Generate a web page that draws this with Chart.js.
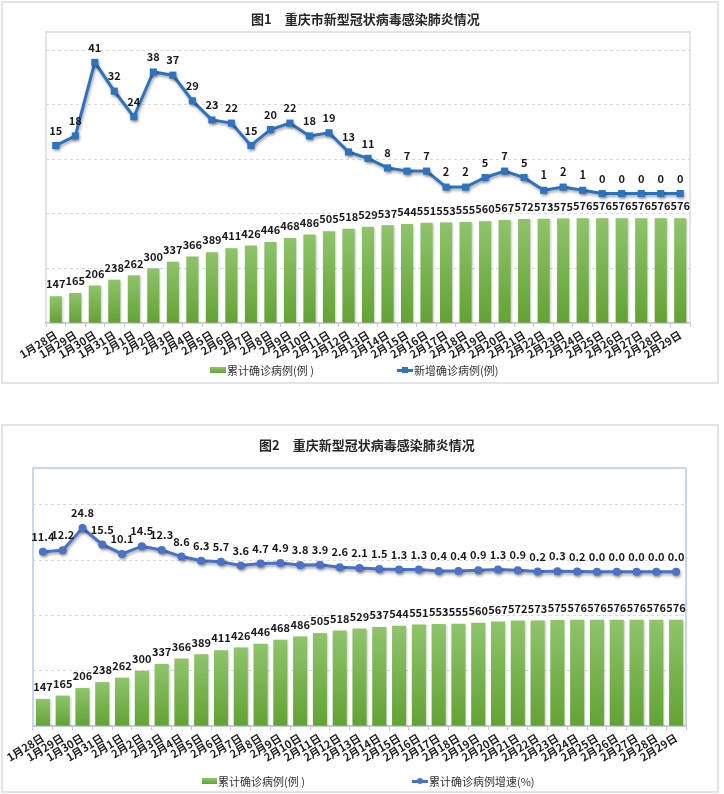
<!DOCTYPE html>
<html><head><meta charset="utf-8">
<script src="https://cdn.jsdelivr.net/npm/chart.js@4.4.1/dist/chart.umd.min.js"></script>
<style>
body{margin:0;background:#fff;width:724px;height:794px;position:relative;overflow:hidden;font-family:"Noto Sans CJK SC",sans-serif;}
.frame{position:absolute;border:2px solid #e4e4e4;box-sizing:border-box;}
canvas{position:absolute;left:0;}
.title{position:absolute;font-weight:bold;font-size:13px;color:#262626;white-space:pre;line-height:16px;}
.leg{position:absolute;font-size:11px;color:#333;line-height:14px;white-space:pre;}
.gbox{position:absolute;background:linear-gradient(#8fc46b,#64a436);}
.lline{position:absolute;height:3px;}
.mk{position:absolute;}
</style></head>
<body>
<div class="frame" style="left:1px;top:1px;width:718px;height:383px;"></div>
<div class="frame" style="left:1px;top:424px;width:718px;height:369px;"></div>
<canvas id="c1" width="724" height="385" style="top:0;"></canvas>
<canvas id="c2" width="724" height="374" style="top:420px;"></canvas>
<div class="title" style="left:251px;top:11px;">图1　重庆市新型冠状病毒感染肺炎情况</div>
<div class="title" style="left:259px;top:437px;">图2　重庆新型冠状病毒感染肺炎情况</div>

<div class="gbox" style="left:210px;top:367px;width:16px;height:6px;"></div>
<div class="leg" style="left:227px;top:363px;">累计确诊病例(例 )</div>
<div class="lline" style="left:397px;top:369px;width:16px;background:#2e73bd;"></div>
<div class="mk" style="left:402px;top:367px;width:6px;height:6px;background:#2e73bd;"></div>
<div class="leg" style="left:414px;top:363px;">新增确诊病例(例)</div>

<div class="gbox" style="left:202px;top:778px;width:15px;height:6px;"></div>
<div class="leg" style="left:218px;top:774px;">累计确诊病例(例 )</div>
<div class="lline" style="left:412px;top:780px;width:16px;background:#4a72c6;"></div>
<div class="mk" style="left:417px;top:778px;width:6px;height:6px;border-radius:3px;background:#4a72c6;"></div>
<div class="leg" style="left:429px;top:774px;">累计确诊病例增速(%)</div>

<script>
const categories = ["1月28日","1月29日","1月30日","1月31日","2月1日","2月2日","2月3日","2月4日","2月5日","2月6日","2月7日","2月8日","2月9日","2月10日","2月11日","2月12日","2月13日","2月14日","2月15日","2月16日","2月17日","2月18日","2月19日","2月20日","2月21日","2月22日","2月23日","2月24日","2月25日","2月26日","2月27日","2月28日","2月29日"];
const cumulativeCases = [147,165,206,238,262,300,337,366,389,411,426,446,468,486,505,518,529,537,544,551,553,555,560,567,572,573,575,576,576,576,576,576,576];
const newCases = [15,18,41,32,24,38,37,29,23,22,15,20,22,18,19,13,11,8,7,7,2,2,5,7,5,1,2,1,0,0,0,0,0];
const growthRate = [11.4,12.2,24.8,15.5,10.1,14.5,12.3,8.6,6.3,5.7,3.6,4.7,4.9,3.8,3.9,2.6,2.1,1.5,1.3,1.3,0.4,0.4,0.9,1.3,0.9,0.2,0.3,0.2,0.0,0.0,0.0,0.0,0.0];

const FONT = '"Noto Sans CJK SC", sans-serif';

const valueLabels = {
  id: 'valueLabels',
  afterDatasetsDraw(chart) {
    const ctx = chart.ctx;
    chart.data.datasets.forEach((ds, i) => {
      const meta = chart.getDatasetMeta(i);
      ctx.save();
      ctx.font = ds.labelFont;
      ctx.fillStyle = '#1a1a1a';
      ctx.textAlign = 'center';
      ctx.textBaseline = 'middle';
      meta.data.forEach((el, j) => {
        ctx.fillText(ds.fmt(ds.data[j]), el.x, el.y - ds.labelOffset);
      });
      ctx.restore();
    });
  }
};
const areaBorder = {
  id: 'areaBorder',
  beforeDraw(chart, args, o) {
    const a = chart.chartArea, ctx = chart.ctx;
    ctx.save();
    ctx.strokeStyle = o.color;
    ctx.lineWidth = 1.5;
    ctx.strokeRect(a.left, a.top, a.right - a.left, a.bottom - a.top);
    ctx.restore();
  }
};
const shadow = {
  id: 'shadow',
  beforeDatasetDraw(chart, args) {
    const ctx = chart.ctx;
    ctx.save();
    if (args.meta.type === 'line') {
      ctx.shadowColor = 'rgba(0,0,0,0.35)';
      ctx.shadowBlur = 3; ctx.shadowOffsetX = 1; ctx.shadowOffsetY = 2;
    } else {
      ctx.shadowColor = 'rgba(0,0,0,0.2)';
      ctx.shadowBlur = 2; ctx.shadowOffsetX = 1; ctx.shadowOffsetY = 1;
    }
  },
  afterDatasetDraw(chart) { chart.ctx.restore(); }
};

function barGradient(c) {
  const chart = c.chart, ys = chart.scales.y;
  if (!ys || c.raw === undefined) return '#76b043';
  const top = ys.getPixelForValue(c.raw), bot = ys.getPixelForValue(0);
  if (!isFinite(top) || !isFinite(bot) || top === bot) return '#76b043';
  const g = chart.ctx.createLinearGradient(0, top, 0, bot);
  g.addColorStop(0, '#8fc46b');
  g.addColorStop(1, '#63a234');
  return g;
}

function makeChart(id, cfg) {
  return new Chart(document.getElementById(id), {
    type: 'bar',
    data: {
      labels: categories,
      datasets: [
        {
          type: 'line', label: cfg.lineLabel, data: cfg.lineData, yAxisID: 'y1', order: 0,
          borderColor: cfg.lineColor, backgroundColor: cfg.lineColor, borderWidth: 3, tension: 0,
          pointStyle: cfg.pointStyle, pointRadius: cfg.pointRadius, pointBorderWidth: 0,
          labelFont: 'bold 11px ' + FONT, labelOffset: 15, fmt: cfg.lineFmt
        },
        {
          type: 'bar', label: '累计确诊病例(例 )', data: cumulativeCases, yAxisID: 'y', order: 1,
          backgroundColor: barGradient, borderWidth: 0,
          categoryPercentage: 1, barPercentage: cfg.barPct,
          labelFont: 'bold 11px ' + FONT, labelOffset: 12, fmt: v => String(v)
        }
      ]
    },
    options: {
      responsive: false, animation: false,
      layout: { padding: cfg.padding },
      plugins: { legend: { display: false }, title: { display: false }, tooltip: { enabled: false },
                 areaBorder: { color: cfg.borderColor } },
      scales: {
        x: {
          offset: true,
          afterFit(s) { s.height = cfg.xHeight; },
          grid: { drawOnChartArea: false, drawTicks: true, tickLength: 4, color: '#c8c8c8', offset: true },
          border: { color: '#c8c8c8', width: 1.5 },
          ticks: { autoSkip: false, minRotation: 32, maxRotation: 32, padding: 1,
                   font: { family: FONT, size: 11, weight: 'bold' }, color: '#1f1f1f' }
        },
        y: {
          position: 'left', min: 0, max: cfg.barMax,
          afterFit(s) { s.width = 0; },
          afterBuildTicks(s) { s.ticks = s.ticks.filter(t => t.value % 300 === 0); },
          ticks: { display: false, stepSize: 300 },
          border: { display: false, dash: [3, 3] },
          grid: { drawTicks: false, borderDash: [3, 3],
                  color: c => (c.tick && c.tick.value > 0) ? '#d9d9d9' : 'rgba(0,0,0,0)' }
        },
        y1: {
          position: 'right', min: cfg.lineMin, max: cfg.lineMax,
          afterFit(s) { s.width = 0; },
          ticks: { display: false }, border: { display: false }, grid: { display: false }
        }
      }
    },
    plugins: [areaBorder, shadow, valueLabels]
  });
}

makeChart('c1', {
  lineLabel: '新增确诊病例(例)', lineData: newCases, lineColor: '#2e73bd',
  pointStyle: 'rect', pointRadius: 5, lineFmt: v => String(v),
  barPct: 0.62, barMax: 1600, lineMin: -40.5, lineMax: 50.5,
  padding: { left: 46, right: 34, top: 32, bottom: 0 }, xHeight: 62, borderColor: '#dcdcdc'
});
makeChart('c2', {
  lineLabel: '累计确诊病例增速(%)', lineData: growthRate, lineColor: '#4a72c6',
  pointStyle: 'circle', pointRadius: 4, lineFmt: v => v.toFixed(1),
  barPct: 0.71, barMax: 1400, lineMin: -87.6, lineMax: 58.9,
  padding: { left: 33, right: 38, top: 48, bottom: 0 }, xHeight: 68, borderColor: '#b4cbe8'
});
</script>
</body></html>
